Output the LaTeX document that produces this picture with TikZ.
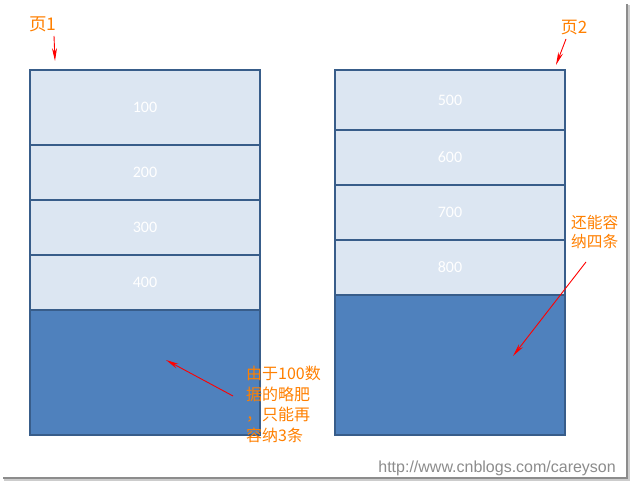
\documentclass[tikz,border=0pt]{standalone}
\usepackage{fontspec}
\setmainfont{Carlito}
\newfontfamily\cjk{Noto Sans CJK SC}
\newfontfamily\urlfont{Liberation Sans}
\usetikzlibrary{arrows.meta}
\definecolor{lightcell}{HTML}{DCE6F2}
\definecolor{darkcell}{HTML}{4F81BD}
\definecolor{cellborder}{HTML}{385D8A}
\definecolor{labelorange}{HTML}{FF8000}
\tikzset{
  cell/.style={draw=cellborder, line width=2pt, anchor=north west, minimum width=230pt,
    inner sep=0pt, text=white, font=\fontsize{16}{18}\selectfont},
  lightrow/.style={cell, fill=lightcell},
  darkrow/.style={cell, fill=darkcell},
  note/.style={text=labelorange, font=\cjk\fontsize{16}{20.5}\selectfont, inner sep=0pt, align=left},
  pointer/.style={draw=red, line width=0.9pt, -{Stealth[length=13pt,width=5pt]}},
}
\begin{document}
\begin{tikzpicture}[x=1pt,y=-1pt]
\useasboundingbox (0,0) rectangle (630,481);
\fill[white] (0,0) rectangle (630,481);
% screenshot shadow
\fill[black!45] (626,4) rectangle (628,478);
\fill[black!20] (628,5) rectangle (630,480);
\fill[black!45] (3,477) rectangle (628,479);
\fill[black!20] (4,479) rectangle (630,481);
% page 1
\node[lightrow, minimum height=75pt] (a1) at (29,69) {100};
\node[lightrow, minimum height=55pt] (a2) at (29,144) {200};
\node[lightrow, minimum height=55pt] (a3) at (29,199) {300};
\node[lightrow, minimum height=55pt] (a4) at (29,254) {400};
\node[darkrow, minimum height=125pt] (a5) at (29,309) {};
% page 2
\node[lightrow, minimum height=60pt] (b1) at (334,69) {500};
\node[lightrow, minimum height=55pt] (b2) at (334,129) {600};
\node[lightrow, minimum height=55pt] (b3) at (334,184) {700};
\node[lightrow, minimum height=55pt] (b4) at (334,239) {800};
\node[darkrow, minimum height=140pt] (b5) at (334,294) {};
% labels
\node[note, font=\cjk\fontsize{17.5}{20}\selectfont] (p1) at (43,24) {页1};
\node[note, font=\cjk\fontsize{17}{20}\selectfont] (p2) at (574,28) {页2};
\node[note, anchor=north west, font=\cjk\fontsize{15.7}{19.5}\selectfont] (n2) at (571,215) {还能容\\纳四条};
\node[note, anchor=north west] (n1) at (246,366) {由于100数\\据的略肥\\，只能再\\容纳3条};
% pointers
\coordinate (p1s) at (54,36);
\coordinate (p1e) at (55,61);
\coordinate (p2s) at (566,39);
\coordinate (p2e) at (556,65);
\coordinate (n2s) at (586,262);
\coordinate (n2e) at (513,356);
\coordinate (n1s) at (233,396);
\coordinate (n1e) at (166,360);
\draw[pointer] (p1s) -- (p1e);
\draw[pointer] (p2s) -- (p2e);
\draw[pointer] (n2s) -- (n2e);
\draw[pointer] (n1s) -- (n1e);
% watermark
\node[text=black!45, font=\urlfont\fontsize{16}{18}\selectfont, anchor=base east, inner sep=0pt] (url) at (616,472) {http://www.cnblogs.com/careyson};
\end{tikzpicture}
\end{document}
